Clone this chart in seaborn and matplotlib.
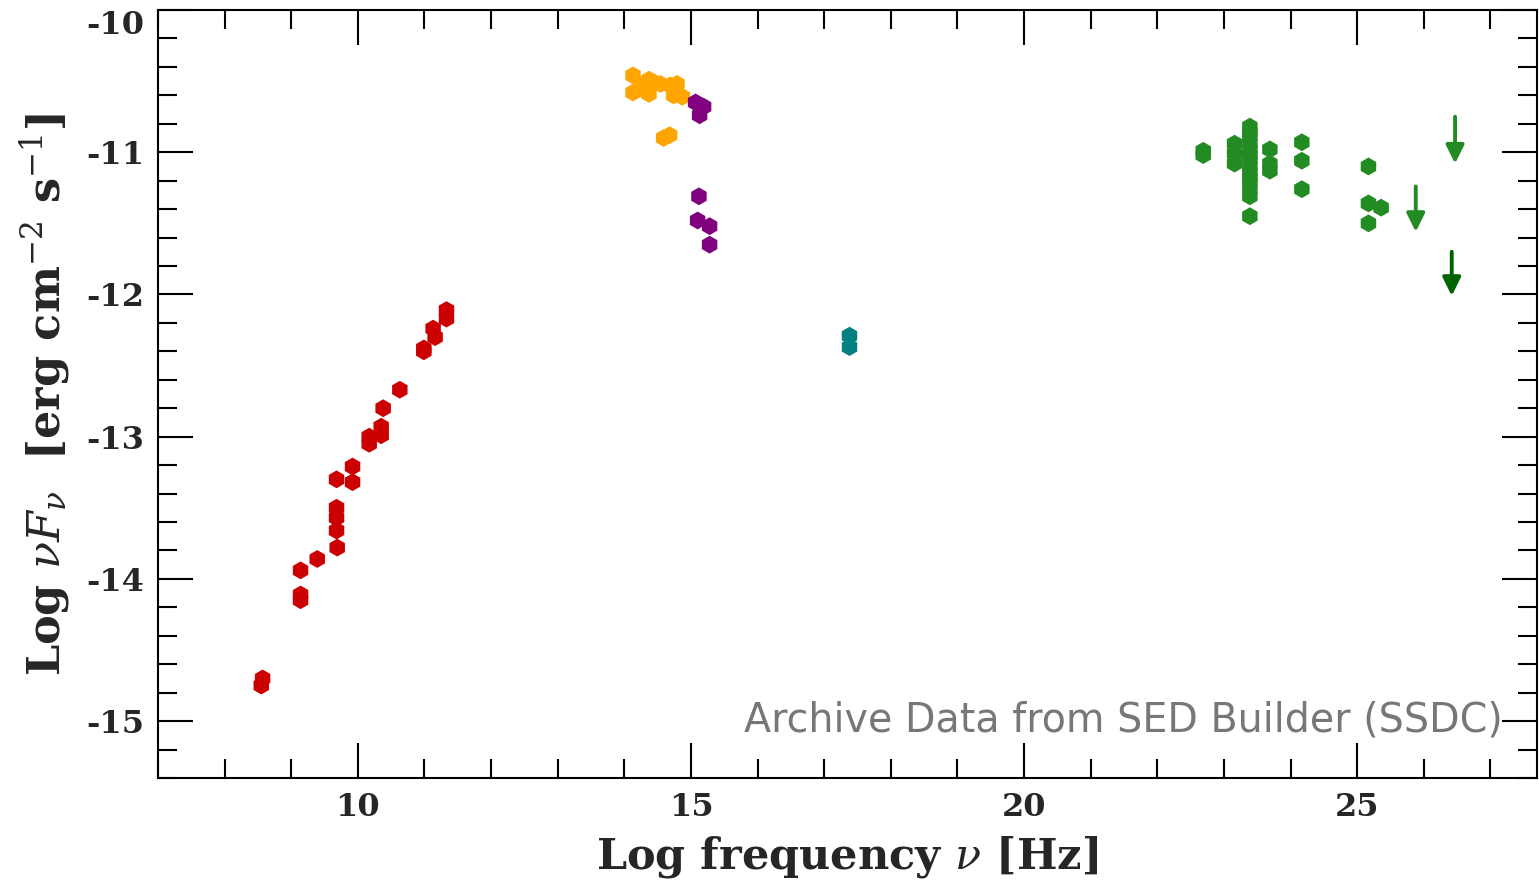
import numpy as np
import pandas as pd
from matplotlib import pyplot as plt
from matplotlib.ticker import MultipleLocator
import seaborn as sns

# radio (red)
radio_x = [11.33, 11.33, 11.13, 11.16, 10.99, 10.99, 10.63, 10.38, 10.35, 10.35, 10.17, 10.17,
           9.92, 9.92, 9.68, 9.68, 9.68, 9.68, 9.69, 9.39, 9.14, 9.14, 9.14, 8.57, 8.55]
radio_y = [-12.11, -12.17, -12.24, -12.30, -12.38, -12.40, -12.67, -12.80, -12.93, -12.99, -13.00, -13.05,
           -13.21, -13.32, -13.30, -13.50, -13.57, -13.66, -13.78, -13.86, -13.94, -14.11, -14.15, -14.70, -14.75]
# infrared (orange)
ir_x = [14.13, 14.13, 14.27, 14.37, 14.37, 14.30, 14.45, 14.54, 14.69, 14.79, 14.74, 14.87, 14.59, 14.68]
ir_y = [-10.46, -10.58, -10.53, -10.49, -10.59, -10.56, -10.51, -10.52, -10.53, -10.52, -10.60, -10.61, -10.90, -10.88]
# optical / UV (purple)
uv_x = [15.07, 15.19, 15.13, 15.12, 15.10, 15.28, 15.28]
uv_y = [-10.65, -10.68, -10.74, -11.31, -11.48, -11.52, -11.65]
# X-ray (teal)
xray_x = [17.38, 17.38]
xray_y = [-12.29, -12.37]
# gamma-ray (green)
gam_x = [22.69, 22.69, 23.16, 23.16, 23.16,
         23.39, 23.39, 23.39, 23.39, 23.39, 23.39, 23.39, 23.39, 23.39, 23.39, 23.39, 23.39, 23.39, 23.39,
         23.69, 23.69, 23.69, 24.17, 24.17, 24.17, 25.17, 25.17, 25.36, 25.17]
gam_y = [-10.99, -11.02, -10.94, -11.01, -11.08,
         -10.82, -10.86, -10.89, -10.94, -10.98, -11.02, -11.05, -11.10, -11.14, -11.18, -11.21, -11.26, -11.31, -11.45,
         -10.98, -11.08, -11.13, -10.93, -11.06, -11.26, -11.10, -11.36, -11.39, -11.50]
# upper limits (arrows)
ul_x = [26.47, 25.88, 26.42]
ul_y = [-10.75, -11.24, -11.70]
ul_len = [0.33, 0.32, 0.31]
ul_col = ['#228b22', '#228b22', '#006400']

bands = ['radio', 'ir', 'uv', 'xray', 'gamma']
band_colors = ['#cc0000', '#ffa500', '#800080', '#008080', '#228b22']

df = pd.DataFrame({
    'x': radio_x + ir_x + uv_x + xray_x + gam_x,
    'y': radio_y + ir_y + uv_y + xray_y + gam_y,
    'band': (['radio'] * len(radio_x) + ['ir'] * len(ir_x) + ['uv'] * len(uv_x)
             + ['xray'] * len(xray_x) + ['gamma'] * len(gam_x)),
})

sns.set_style('ticks')
plt.rcParams['font.family'] = ['DejaVu Serif']
plt.rcParams['mathtext.fontset'] = 'dejavuserif'
plt.rcParams['axes.unicode_minus'] = False

fig = plt.figure(figsize=(15.39, 8.85), dpi=100)
ax = fig.add_axes([158 / 1539, 1 - 778 / 885, (1537 - 158) / 1539, (778 - 10) / 885])

sns.scatterplot(data=df, x='x', y='y', hue='band', hue_order=bands,
                palette=dict(zip(bands, band_colors)), marker='h', s=165,
                edgecolor='none', legend=False, ax=ax, zorder=3)

# upper limits drawn as downward arrows
for x, y, l, c in zip(ul_x, ul_y, ul_len, ul_col):
    ax.annotate('', xy=(x, y - l), xytext=(x, y),
                arrowprops=dict(arrowstyle='-|>,head_length=0.85,head_width=0.42', color=c, lw=2.8,
                                mutation_scale=13, shrinkA=0, shrinkB=0))

ax.set_xlim(7.0, 27.7)
ax.set_ylim(-15.4, -10.0)
ax.xaxis.set_major_locator(MultipleLocator(5))
ax.xaxis.set_minor_locator(MultipleLocator(1))
ax.yaxis.set_major_locator(MultipleLocator(1))
ax.yaxis.set_minor_locator(MultipleLocator(0.2))
ax.tick_params(which='both', direction='in', top=True, right=True, width=1.5, color='black')
ax.tick_params(which='major', length=25, labelsize=23, pad=10)
ax.tick_params(which='minor', length=14)
for lab in ax.get_xticklabels() + ax.get_yticklabels():
    lab.set_fontweight('bold')
for sp in ax.spines.values():
    sp.set_linewidth(1.5)
    sp.set_color('black')

ax.set_xlabel(r'Log frequency $\nu$ [Hz]', fontsize=31, fontweight='bold', labelpad=8)
ax.set_ylabel(r'Log $\nu F_\nu$  [erg cm$^{-2}$ s$^{-1}$]', fontsize=32, fontweight='bold', labelpad=10)

ax.text(0.975, 0.075, 'Archive Data from SED Builder (SSDC)', transform=ax.transAxes,
        ha='right', va='center', fontsize=28.5, color='#777777', family='DejaVu Sans')

fig.canvas.draw()
for t in ax.yaxis.get_major_ticks():
    if t.label1.get_text() == '-10':
        t.label1.set_va('top')

fig.savefig('out.png', dpi=100)
